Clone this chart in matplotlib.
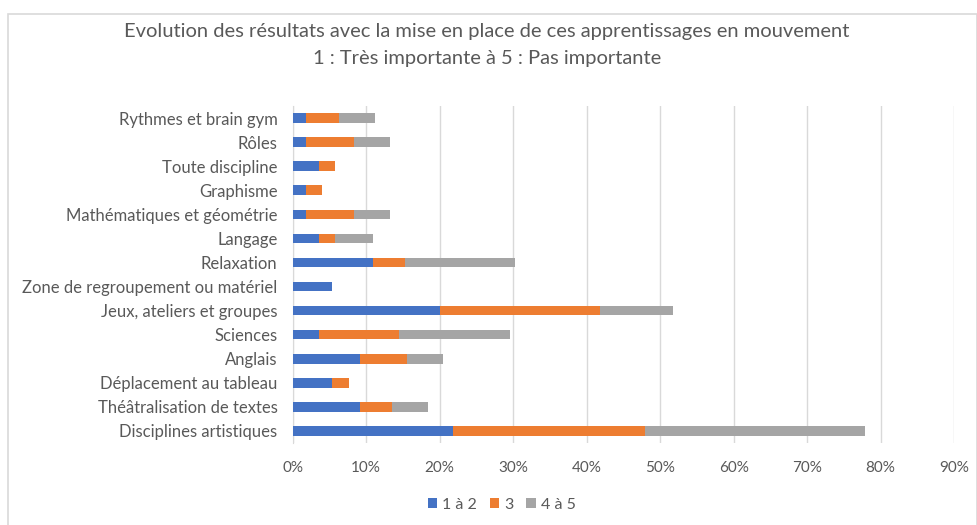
import numpy as np
import matplotlib
matplotlib.use("Agg")
import matplotlib.pyplot as plt
from matplotlib.patches import Rectangle
from matplotlib.ticker import PercentFormatter

# categories listed bottom -> top
categories = [
    "Disciplines artistiques",
    "Théâtralisation de textes",
    "Déplacement au tableau",
    "Anglais",
    "Sciences",
    "Jeux, ateliers et groupes",
    "Zone de regroupement ou matériel",
    "Relaxation",
    "Langage",
    "Mathématiques et géométrie",
    "Graphisme",
    "Toute discipline",
    "Rôles",
    "Rythmes et brain gym",
]
vals_1_2 = [21.8, 9.1, 5.4, 9.1, 3.6, 20.0, 5.4, 10.9, 3.6, 1.8, 1.8, 3.6, 1.8, 1.8]
vals_3 = [26.1, 4.4, 2.2, 6.5, 10.9, 21.8, 0.0, 4.4, 2.2, 6.5, 2.2, 2.2, 6.5, 4.5]
vals_4_5 = [30.0, 4.9, 0.0, 4.9, 15.1, 9.9, 0.0, 15.0, 5.1, 5.0, 0.0, 0.0, 5.0, 4.9]
series_names = ["1 à 2", "3", "4 à 5"]
colors = ["#4472C4", "#ED7D31", "#A5A5A5"]

plt.rcParams["font.family"] = ["Lato", "DejaVu Sans"]
TXT = "#595959"

fig = plt.figure(figsize=(9.78, 5.25), dpi=100)
ax = fig.add_axes([0.2993, 0.1562, 0.6762, 0.6419])

y = np.arange(len(categories))
left = np.zeros(len(categories))
for vals, name, c in zip([vals_1_2, vals_3, vals_4_5], series_names, colors):
    v = np.array(vals)
    ax.barh(y, v, left=left, height=0.4, color=c, label=name, zorder=3)
    left += v

ax.set_xlim(0, 90)
ax.set_ylim(-0.5, len(categories) - 0.5)
ax.set_xticks(np.arange(0, 91, 10))
ax.xaxis.set_major_formatter(PercentFormatter(decimals=0))
ax.set_yticks(y)
ax.set_yticklabels(categories)
ax.tick_params(axis="both", length=0, colors=TXT)
ax.tick_params(axis="x", pad=13, labelsize=11)
ax.tick_params(axis="y", pad=11, labelsize=12)
ax.grid(axis="x", color="#D9D9D9", linewidth=1, zorder=0)
for s in ["top", "right", "bottom"]:
    ax.spines[s].set_visible(False)
ax.spines["left"].set_color("#D9D9D9")

fig.text(0.498, 0.94, "Evolution des résultats avec la mise en place de ces apprentissages en mouvement",
         ha="center", va="center", fontsize=14.5, color=TXT)
fig.text(0.498, 0.889, "1 : Très importante à 5 : Pas importante",
         ha="center", va="center", fontsize=14.5, color=TXT)

leg = fig.legend(loc="center", bbox_to_anchor=(0.513, 0.038), ncol=3, frameon=False,
                 fontsize=11.5, handlelength=0.6, handleheight=0.6, handletextpad=0.3,
                 columnspacing=0.8, labelcolor=TXT)

fig.patches.append(Rectangle((8 / 978, -0.05), 969 / 978, 1.05 - 14 / 525,
                             transform=fig.transFigure, fill=False,
                             edgecolor="#D9D9D9", linewidth=1.2))

fig.savefig("out.png", dpi=100)
